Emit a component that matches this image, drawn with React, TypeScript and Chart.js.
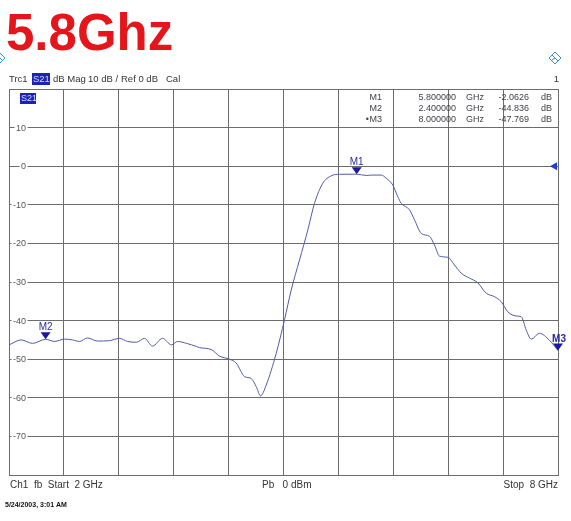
import React, { useEffect, useRef } from "react";
import { Chart, registerables } from "chart.js";

Chart.register(...registerables);

// Frequency (GHz) and S21 magnitude (dB)
const freqGHz = [
  2.0, 2.133, 2.257, 2.4, 2.497, 2.607, 2.694, 2.77, 2.858, 2.967, 3.098, 3.208, 3.295,
  3.393, 3.481, 3.568, 3.678, 3.776, 3.842, 3.94, 4.049, 4.082, 4.21, 4.301, 4.41, 4.483,
  4.574, 4.647, 4.702, 4.749, 4.811, 4.92, 5.011, 5.084, 5.175, 5.266, 5.339, 5.43, 5.521,
  5.612, 5.8, 5.904, 5.976, 6.068, 6.122, 6.195, 6.249, 6.286, 6.377, 6.432, 6.505, 6.596,
  6.65, 6.705, 6.796, 6.869, 6.942, 7.033, 7.123, 7.215, 7.306, 7.379, 7.451, 7.543, 7.598,
  7.652, 7.707, 7.798, 7.903, 8.0,
];
const s21dB = [
  -46.3, -45.0, -45.9, -44.836, -45.4, -44.8, -45.0, -45.4, -44.5, -45.3, -45.2, -44.6, -45.4,
  -45.6, -44.6, -46.6, -44.6, -46.3, -45.4, -45.9, -46.7, -47.0, -47.5, -49.2, -50.0, -51.0,
  -54.5, -55.0, -57.1, -59.5, -56.7, -48.5, -39.8, -32.1, -24.3, -16.5, -9.6, -4.4, -2.5,
  -2.1, -2.0626, -2.4, -2.3, -2.3, -3.1, -4.9, -7.9, -9.6, -11.3, -13.9, -17.4, -18.2,
  -20.4, -23.3, -23.6, -25.6, -27.7, -29.0, -30.2, -32.9, -33.8, -35.1, -37.7, -38.8, -39.0,
  -42.4, -44.8, -43.3, -45.0, -47.769,
];

// Axis grid ticks
const xGridTicks = [2, 2.6, 3.2, 3.8, 4.4, 5, 5.6, 6.2, 6.8, 7.4, 8];
const yGridTicks = [20, 10, 0, -10, -20, -30, -40, -50, -60, -70, -80];
const yTickLabels = [10, 0, -10, -20, -30, -40, -50, -60, -70];

// Markers
const markerNames = ["M1", "M2", "M3"];
const markerFreq = [5.8, 2.4, 8.0];
const markerVal = [-2.0626, -44.836, -47.769];
const markerFreqText = ["5.800000", "2.400000", "8.000000"];
const markerValText = ["-2.0626", "-44.836", "-47.769"];

const FONT = "'Liberation Sans', Arial, sans-serif";

function drawDiamond(ctx: CanvasRenderingContext2D, cx: number, cy: number, r: number) {
  ctx.save();
  ctx.strokeStyle = "#3d8fd6";
  ctx.lineWidth = 1;
  ctx.beginPath();
  ctx.moveTo(cx, cy - r);
  ctx.lineTo(cx + r, cy);
  ctx.lineTo(cx, cy + r);
  ctx.lineTo(cx - r, cy);
  ctx.closePath();
  ctx.stroke();
  ctx.beginPath();
  ctx.moveTo(cx - r / 2, cy - r / 2);
  ctx.lineTo(cx + r / 2, cy + r / 2);
  ctx.moveTo(cx - r / 2, cy + r / 2 - 1);
  ctx.lineTo(cx, cy);
  ctx.stroke();
  ctx.restore();
}

const overlayPlugin = {
  id: "vnaOverlay",
  beforeDatasetsDraw(chart: any) {
    const ctx: CanvasRenderingContext2D = chart.ctx;
    const { left } = chart.chartArea;
    const ys = chart.scales.y;
    ctx.save();
    ctx.font = `9px ${FONT}`;
    ctx.textBaseline = "middle";
    ctx.textAlign = "right";
    for (const v of yTickLabels) {
      const py = ys.getPixelForValue(v);
      const label = String(v);
      const w = ctx.measureText(label).width;
      const rx = left + 17;
      ctx.fillStyle = "#ffffff";
      ctx.fillRect(rx - w - 1.5, py - 3, w + 3, 6);
      ctx.fillStyle = "#555555";
      ctx.fillText(label, rx, py + 0.5);
    }
    ctx.restore();
  },
  afterDraw(chart: any) {
    const ctx: CanvasRenderingContext2D = chart.ctx;
    const { left, right, top, bottom } = chart.chartArea;
    const xs = chart.scales.x;
    const ys = chart.scales.y;
    ctx.save();

    // Big title
    ctx.fillStyle = "#e4161c";
    ctx.font = `bold 51px ${FONT}`;
    ctx.textBaseline = "alphabetic";
    ctx.textAlign = "left";
    ctx.fillText("5.8Ghz", 6, 50);

    // diamonds
    drawDiamond(ctx, 0, 58, 5);
    drawDiamond(ctx, 555, 58, 6);

    // Trace header line
    ctx.font = `9.5px ${FONT}`;
    ctx.fillStyle = "#333333";
    ctx.textBaseline = "middle";
    const hy = 79;
    ctx.fillText("Trc1", 9, hy);
    ctx.fillStyle = "#1c22b4";
    ctx.fillRect(32, hy - 6, 18, 12);
    ctx.fillStyle = "#d8dcff";
    ctx.fillText("S21", 33, hy);
    ctx.fillStyle = "#333333";
    ctx.fillText("dB Mag", 53, hy);
    ctx.fillText("10 dB /", 88, hy);
    ctx.fillText("Ref 0 dB", 121, hy);
    ctx.fillText("Cal", 166, hy);
    ctx.textAlign = "right";
    ctx.fillText("1", 559, hy);

    // S21 box inside the plot
    ctx.textAlign = "left";
    ctx.fillStyle = "#1c22b4";
    ctx.fillRect(left + 11, top + 4, 16, 11);
    ctx.fillStyle = "#d8dcff";
    ctx.font = `9px ${FONT}`;
    ctx.fillText("S21", left + 12, top + 9.5);

    // Marker table
    ctx.font = `9px ${FONT}`;
    ctx.fillStyle = "#404048";
    const rowY = [top + 9, top + 20, top + 31];
    for (let i = 0; i < markerNames.length; i++) {
      const y = rowY[i];
      ctx.textAlign = "right";
      ctx.fillText(markerNames[i], 382, y);
      if (i === 2) ctx.fillText("•", 369, y);
      ctx.fillText(markerFreqText[i], 456, y);
      ctx.textAlign = "left";
      ctx.fillText("GHz", 466, y);
      ctx.textAlign = "right";
      ctx.fillText(markerValText[i], 529, y);
      ctx.fillText("dB", 552, y);
    }

    // Markers on trace
    for (let i = 0; i < markerNames.length; i++) {
      const px = xs.getPixelForValue(markerFreq[i]);
      const py = ys.getPixelForValue(markerVal[i]);
      ctx.fillStyle = "#1a1a9e";
      ctx.beginPath();
      ctx.moveTo(px, py);
      ctx.lineTo(px - 5, py - 7);
      ctx.lineTo(px + 5, py - 7);
      ctx.closePath();
      ctx.fill();
      ctx.font = (i === 2 ? "bold " : "") + `10px ${FONT}`;
      ctx.fillStyle = "#2a2aa6";
      ctx.textAlign = "center";
      ctx.textBaseline = "alphabetic";
      ctx.fillText(markerNames[i], px + (i === 2 ? 1 : 0), py - 9);
    }

    // Reference level arrow at right edge
    const ry = ys.getPixelForValue(0);
    ctx.fillStyle = "#1f3ed8";
    ctx.beginPath();
    ctx.moveTo(right - 8, ry);
    ctx.lineTo(right - 1, ry - 4);
    ctx.lineTo(right - 1, ry + 4);
    ctx.closePath();
    ctx.fill();

    // Footer
    ctx.font = `10px ${FONT}`;
    ctx.fillStyle = "#333333";
    ctx.textBaseline = "middle";
    ctx.textAlign = "left";
    const fy = bottom + 10;
    ctx.fillText("Ch1  fb  Start  2 GHz", left + 1, fy);
    ctx.fillText("Pb   0 dBm", 262, fy);
    ctx.textAlign = "right";
    ctx.fillText("Stop  8 GHz", right, fy);

    ctx.textAlign = "left";
    ctx.font = `bold 7px ${FONT}`;
    ctx.fillStyle = "#111111";
    ctx.fillText("5/24/2003, 3:01 AM", 5, 505);

    ctx.restore();
  },
};

export default function App() {
  const canvasRef = useRef<HTMLCanvasElement | null>(null);

  useEffect(() => {
    const canvas = canvasRef.current;
    if (!canvas) return;
    const points = freqGHz.map((f, i) => ({ x: f, y: s21dB[i] }));
    const gridColor = "#6c6c6c";
    const chart = new Chart(canvas, {
      type: "line",
      data: {
        datasets: [
          {
            label: "S21",
            data: points,
            borderColor: "#4f5aa6",
            borderWidth: 1,
            pointRadius: 0,
            cubicInterpolationMode: "monotone",
            fill: false,
          },
        ],
      },
      options: {
        responsive: false,
        maintainAspectRatio: false,
        animation: false,
        devicePixelRatio: 1,
        layout: { padding: { left: 9, right: 13, top: 89, bottom: 46 } },
        plugins: {
          legend: { display: false },
          tooltip: { enabled: false },
        },
        scales: {
          x: {
            type: "linear",
            min: 2,
            max: 8,
            afterBuildTicks: (scale: any) => {
              scale.ticks = xGridTicks.map((v) => ({ value: v }));
            },
            ticks: { display: false },
            grid: { color: gridColor, lineWidth: 1, drawTicks: false },
            border: { color: gridColor, width: 1 },
          },
          y: {
            type: "linear",
            min: -80,
            max: 20,
            afterBuildTicks: (scale: any) => {
              scale.ticks = yGridTicks.map((v) => ({ value: v }));
            },
            ticks: { display: false },
            grid: { color: gridColor, lineWidth: 1, drawTicks: false },
            border: { color: gridColor, width: 1 },
          },
        },
      },
      plugins: [overlayPlugin],
    } as any);
    return () => chart.destroy();
  }, []);

  return (
    <div
      style={{
        position: "fixed",
        left: 0,
        top: 0,
        width: 571,
        height: 521,
        background: "#ffffff",
      }}
    >
      <canvas ref={canvasRef} width={571} height={521} style={{ display: "block" }} />
    </div>
  );
}
